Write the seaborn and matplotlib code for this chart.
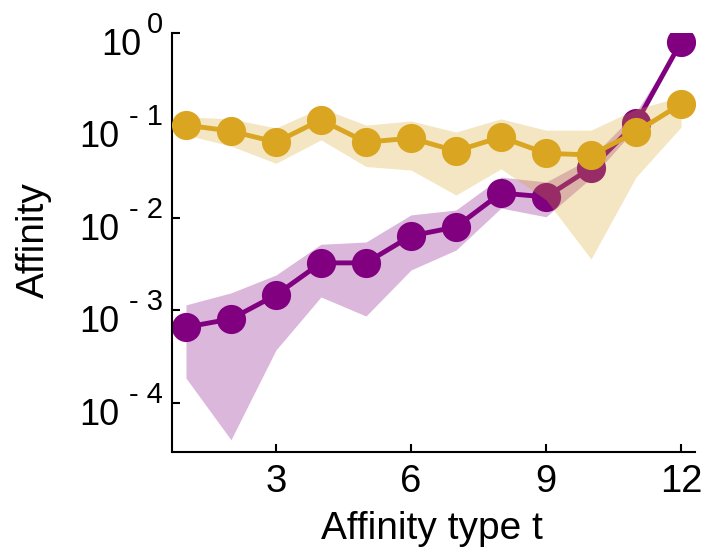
import matplotlib
matplotlib.use("Agg")
import matplotlib.pyplot as plt
import matplotlib.transforms as mtransforms
import seaborn as sns
import numpy as np
import pandas as pd

# ---- data ----
types = [1, 2, 3, 4, 5, 6, 7, 8, 9, 10, 11, 12]

gold_mean = [0.101, 0.087, 0.066, 0.115, 0.066, 0.073, 0.053, 0.075, 0.050, 0.048, 0.085, 0.171]
gold_upper = [0.124, 0.118, 0.094, 0.155, 0.101, 0.112, 0.085, 0.118, 0.089, 0.089, 0.151, 0.203]
gold_lower = [0.079, 0.060, 0.039, 0.070, 0.036, 0.033, 0.0177, 0.034, 0.0157, 0.0036, 0.0277, 0.096]

purple_mean = [6.6e-4, 8.1e-4, 1.47e-3, 3.27e-3, 3.27e-3, 6.4e-3, 8.0e-3, 0.0186, 0.0169, 0.0347, 0.106, 0.80]
purple_upper = [1.15e-3, 1.55e-3, 2.42e-3, 5.2e-3, 5.5e-3, 0.0108, 0.0122, 0.0277, 0.0245, 0.0445, 0.140, 0.80]
purple_lower = [1.86e-4, 4.0e-5, 3.74e-4, 1.40e-3, 8.7e-4, 2.74e-3, 4.5e-3, 0.0128, 0.0103, 0.027, 0.094, 0.80]

xticks = [3, 6, 9, 12]
yticks = [1e-4, 1e-3, 1e-2, 1e-1, 1e0]
ytick_bases = ["10", "10", "10", "10", "10"]
ytick_exponents = ["- 4", "- 3", "- 2", "- 1", "0"]

GOLD = "#DAA520"
PURPLE = "#800080"

sns.set_theme(style="ticks")
plt.rcParams["font.family"] = ["Liberation Sans", "DejaVu Sans"]
plt.rcParams["text.color"] = "black"
plt.rcParams["axes.labelcolor"] = "black"
plt.rcParams["xtick.color"] = "black"
plt.rcParams["ytick.color"] = "black"

df = pd.DataFrame({
    "t": types * 2,
    "Affinity": gold_mean + purple_mean,
    "series": ["gold"] * len(types) + ["purple"] * len(types),
})

fig = plt.figure(figsize=(7.06, 5.52), dpi=100)
ax = fig.add_axes([172 / 706, 1 - 452 / 552, (695 - 172) / 706, (452 - 33) / 552])

ax.fill_between(types, purple_lower, purple_upper, color=PURPLE, alpha=0.28,
                linewidth=0, zorder=1)
sns.lineplot(data=df[df.series == "purple"], x="t", y="Affinity", color=PURPLE,
             marker="o", markersize=21, markeredgewidth=0, linewidth=3.5,
             ax=ax, zorder=2, legend=False)
ax.fill_between(types, gold_lower, gold_upper, color=GOLD, alpha=0.27,
                linewidth=0, zorder=3)
sns.lineplot(data=df[df.series == "gold"], x="t", y="Affinity", color=GOLD,
             marker="o", markersize=21, markeredgewidth=0, linewidth=3.5,
             ax=ax, zorder=4, legend=False)

ax.set_yscale("log")
ax.set_xlim(0.69, 12.31)
ax.set_ylim(10 ** -4.53, 1.0)
ax.set_xticks(xticks)
ax.set_xticklabels([str(v) for v in xticks])
ax.set_yticks(yticks)
ax.set_yticklabels([""] * len(yticks))
ax.yaxis.set_minor_locator(matplotlib.ticker.NullLocator())

# y tick labels: base "10" with a raised exponent, as real text
trans = mtransforms.blended_transform_factory(ax.transAxes, ax.transData)
for v, base, ex in zip(yticks, ytick_bases, ytick_exponents):
    base_dx = -31 if ex == "0" else -53
    ax.text(0, v, base, fontsize=26, ha="right", va="baseline",
            transform=mtransforms.offset_copy(trans, fig=fig, x=base_dx, y=-22, units="dots"),
            clip_on=False)
    ax.text(0, v, ex, fontsize=21, ha="right", va="baseline",
            transform=mtransforms.offset_copy(trans, fig=fig, x=-9, y=0, units="dots"),
            clip_on=False)

for s in ["top", "right"]:
    ax.spines[s].set_visible(False)
for s in ["left", "bottom"]:
    ax.spines[s].set_linewidth(1.5)
    ax.spines[s].set_color("black")

ax.tick_params(axis="both", which="major", direction="in", length=6, width=1.5,
               colors="black")
ax.tick_params(axis="x", labelsize=27.5, pad=9)

ax.set_xlabel("Affinity type t", fontsize=28)
ax.set_ylabel("Affinity", fontsize=28)
ax.xaxis.set_label_coords(0.497, -0.141)
ax.yaxis.set_label_coords(-0.229, 0.506)

fig.savefig("out.png", dpi=100)
